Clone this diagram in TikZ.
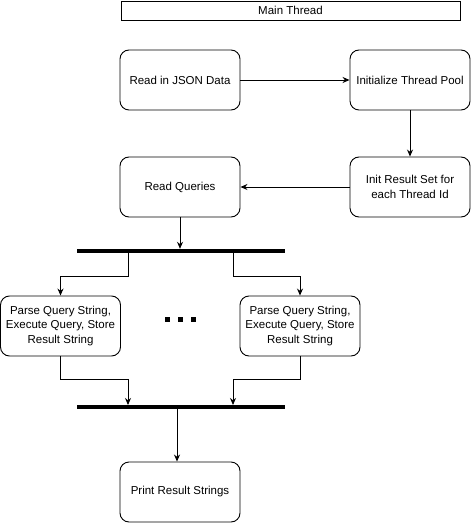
\documentclass[tikz,border=0pt]{standalone}
\usepackage{fontspec}
\setmainfont{Liberation Sans}
\usetikzlibrary{arrows.meta,calc}
\begin{document}
\begin{tikzpicture}[x=1pt,y=-1pt,
  box/.style={draw,line width=0.9pt,rounded corners=9pt,minimum width=120pt,minimum height=60pt,align=center,inner sep=0pt,font=\fontsize{11.5}{14.6}\selectfont},
  hdr/.style={draw,line width=0.9pt,minimum width=339pt,minimum height=19pt,inner sep=0pt,font=\fontsize{11.5}{14}\selectfont},
  bar/.style={fill=black,minimum width=208pt,minimum height=4pt,inner sep=0pt},
  dotbox/.style={fill=black,minimum size=5pt,inner sep=0pt},
  arr/.style={line width=0.9pt,-{Stealth[length=7pt,width=6pt]}},
  ln/.style={line width=0.9pt}]
\useasboundingbox (0,0) rectangle (472,526);
\node[hdr] (main) at (290.5,10.5) {Main Thread};
\node[box] (json) at (180,80) {Read in JSON Data};
\node[box] (pool) at (410,80) {Initialize Thread Pool};
\node[box] (res) at (410,187) {Init Result Set for\\each Thread Id};
\node[box] (rq) at (180,187) {Read Queries};
\node[bar] (bar1) at (181,251) {};
\node[box] (p1) at (60.5,326) {Parse Query String,\\Execute Query, Store\\Result String};
\node[box] (p2) at (300,326) {Parse Query String,\\Execute Query, Store\\Result String};
\node[dotbox] (d1) at (167,319) {};
\node[dotbox] (d2) at (180,319) {};
\node[dotbox] (d3) at (193,319) {};
\node[bar] (bar2) at (181,407) {};
\node[box] (pr) at (180,492) {Print Result Strings};
\coordinate (b1l) at (128,253);
\coordinate (b1r) at (233,253);
\coordinate (b2l) at (128,405);
\coordinate (b2r) at (233,405);
\draw[arr] (json.east) -- (pool.west);
\draw[arr] (pool.south) -- (res.north);
\draw[arr] (res.west) -- (rq.east);
\draw[arr] (rq.south) -- (rq.south |- bar1.north);
\draw[arr] (b1l) -- ++(0,23) -| (p1.north);
\draw[arr] (b1r) -- ++(0,23) -| (p2.north);
\draw[arr] (p1.south) -- ++(0,23) -| (b2l);
\draw[arr] (p2.south) -- ++(0,23) -| (b2r);
\draw[arr] (bar2.south -| 177,0) -- (pr.north -| 177,0);
\end{tikzpicture}
\end{document}
